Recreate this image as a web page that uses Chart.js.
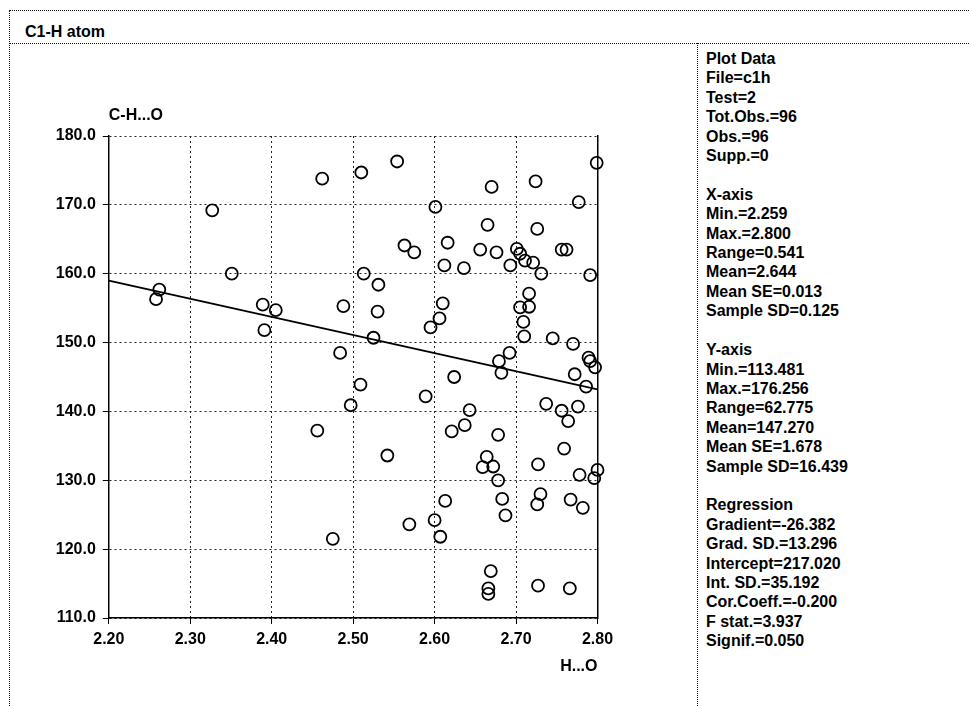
<!DOCTYPE html>
<html>
<head>
<meta charset="utf-8">
<title>C1-H atom</title>
<script src="https://cdn.jsdelivr.net/npm/chart.js@4.4.1/dist/chart.umd.min.js"></script>
<style>
    body { margin: 0; background: #fff; font-family: "Liberation Sans", Arial, sans-serif; }
    #wrap { position: relative; width: 969px; height: 706px; overflow: hidden; }
    #chart { position: absolute; left: 0; top: 0; }
    .rule { position: absolute; border: 0 dotted #111; }
    #title { position: absolute; left: 25px; top: 22px; font-size: 16px; font-weight: bold; line-height: 19px; color: #000; }
    #panel { position: absolute; left: 706px; top: 49px; font-size: 16px; font-weight: bold; line-height: 19.4px; color: #000; white-space: pre; }
</style>
</head>
<body>
<div id="wrap">
    <div class="rule" style="left:9px;top:10px;width:960px;border-top-width:1px;"></div>
    <div class="rule" style="left:9px;top:10px;height:696px;border-left-width:1px;"></div>
    <div class="rule" style="left:9px;top:43px;width:960px;border-top-width:1px;"></div>
    <div class="rule" style="left:697px;top:43px;height:663px;border-left-width:1px;"></div>
    <div id="title">C1-H atom</div>
    <div id="panel"></div>
    <canvas id="chart" width="969" height="706"></canvas>
</div>
<script>
// H...O distance (x) and C-H...O angle (y) for each observation
const xValues = [
    2.258, 2.262, 2.327, 2.351, 2.389, 2.391, 2.405, 2.456, 2.462, 2.475,
    2.484, 2.488, 2.497, 2.509, 2.510, 2.513, 2.525, 2.530, 2.531, 2.542,
    2.554, 2.563, 2.569, 2.575, 2.589, 2.595, 2.601, 2.600, 2.606, 2.607,
    2.610, 2.612, 2.613, 2.616, 2.621, 2.624, 2.636, 2.637, 2.643, 2.656,
    2.659, 2.664, 2.665, 2.666, 2.666, 2.669, 2.670, 2.672, 2.676, 2.678,
    2.678, 2.679, 2.682, 2.683, 2.687, 2.693, 2.692, 2.701, 2.705, 2.705,
    2.709, 2.710, 2.711, 2.716, 2.716, 2.721, 2.724, 2.726, 2.726, 2.727,
    2.727, 2.730, 2.731, 2.737, 2.745, 2.756, 2.756, 2.759, 2.762, 2.764,
    2.766, 2.767, 2.770, 2.772, 2.776, 2.777, 2.778, 2.782, 2.786, 2.789,
    2.791, 2.791, 2.796, 2.797, 2.799, 2.800
];
const yValues = [
    156.3, 157.7, 169.2, 160.0, 155.5, 151.8, 154.7, 137.2, 173.8, 121.5,
    148.5, 155.3, 140.9, 143.9, 174.7, 160.0, 150.7, 154.5, 158.4, 133.6,
    176.3, 164.1, 123.6, 163.1, 142.2, 152.2, 169.7, 124.2, 153.5, 121.8,
    155.7, 161.2, 127.0, 164.5, 137.1, 145.0, 160.8, 138.0, 140.2, 163.5,
    131.9, 133.4, 167.1, 114.3, 113.5, 116.8, 172.6, 132.0, 163.1, 130.0,
    136.6, 147.3, 145.6, 127.3, 124.9, 161.2, 148.5, 163.6, 162.9, 155.1,
    153.0, 150.9, 161.9, 157.1, 155.2, 161.6, 173.4, 126.5, 166.5, 132.3,
    114.7, 128.0, 160.0, 141.1, 150.6, 163.5, 140.1, 134.6, 163.5, 138.6,
    114.3, 127.2, 149.8, 145.4, 140.7, 170.4, 130.8, 126.0, 143.6, 147.8,
    147.3, 159.8, 130.3, 146.4, 176.1, 131.5
];

// regression line ends, as drawn
const lineX = [2.20, 2.80];
const lineY = [159.0, 143.2];

const xTickValues = [2.2, 2.3, 2.4, 2.5, 2.6, 2.7, 2.8];
const xTickLabels = ["2.20", "2.30", "2.40", "2.50", "2.60", "2.70", "2.80"];
const yTickValues = [110, 120, 130, 140, 150, 160, 170, 180];
const yTickLabels = ["110.0", "120.0", "130.0", "140.0", "150.0", "160.0", "170.0", "180.0"];

const xTitle = "H...O";
const yTitle = "C-H...O";

const panelLines = [
    "Plot Data", "File=c1h", "Test=2", "Tot.Obs.=96", "Obs.=96", "Supp.=0", "",
    "X-axis", "Min.=2.259", "Max.=2.800", "Range=0.541", "Mean=2.644", "Mean SE=0.013", "Sample SD=0.125", "",
    "Y-axis", "Min.=113.481", "Max.=176.256", "Range=62.775", "Mean=147.270", "Mean SE=1.678", "Sample SD=16.439", "",
    "Regression", "Gradient=-26.382", "Grad. SD.=13.296", "Intercept=217.020", "Int. SD.=35.192",
    "Cor.Coeff.=-0.200", "F stat.=3.937", "Signif.=0.050"
];

document.getElementById("panel").textContent = panelLines.join("\n");

Chart.defaults.font.family = '"Liberation Sans", Arial, sans-serif';
Chart.defaults.font.size = 16;
Chart.defaults.font.weight = "bold";
Chart.defaults.color = "#000";

// horizontal y-axis caption above the plot
const yCaption = {
    id: "yCaption",
    afterDraw(chart) {
        const ctx = chart.ctx;
        ctx.save();
        ctx.font = 'bold 16px "Liberation Sans", Arial, sans-serif';
        ctx.fillStyle = "#000";
        ctx.textAlign = "left";
        ctx.textBaseline = "middle";
        ctx.fillText(yTitle, chart.chartArea.left, chart.chartArea.top - 20);
        ctx.restore();
    }
};

const points = xValues.map((x, i) => ({ x: x, y: yValues[i] }));
const linePoints = lineX.map((x, i) => ({ x: x, y: lineY[i] }));

new Chart(document.getElementById("chart"), {
    type: "scatter",
    data: {
        datasets: [{
            data: points,
            pointStyle: "circle",
            pointRadius: 6,
            pointHoverRadius: 6,
            pointBorderWidth: 1.8,
            borderColor: "#000",
            backgroundColor: "rgba(0,0,0,0)",
            clip: false
        }, {
            data: linePoints,
            showLine: true,
            pointRadius: 0,
            borderColor: "#000",
            borderWidth: 1.8
        }]
    },
    options: {
        responsive: false,
        animation: false,
        events: [],
        plugins: { legend: { display: false }, tooltip: { enabled: false } },
        layout: { padding: { top: 136, left: 0, right: 371.5, bottom: 28 } },
        scales: {
            x: {
                type: "linear",
                min: 2.2,
                max: 2.8,
                afterBuildTicks: s => { s.ticks = xTickValues.map(v => ({ value: v })); },
                afterFit: s => { s.height = 60; },
                ticks: {
                    callback: (v, i) => xTickLabels[i],
                    padding: 6,
                    maxRotation: 0,
                    color: "#000"
                },
                grid: {
                    color: "#222",
                    lineWidth: 1,
                    tickLength: 6,
                    tickColor: "#000",
                    tickBorderDash: []
                },
                border: { display: true, color: "#000", width: 1.5, dash: [2, 3] },
                title: {
                    display: true,
                    text: xTitle,
                    align: "end",
                    padding: { top: 0, bottom: 2 },
                    color: "#000"
                }
            },
            y: {
                type: "linear",
                min: 110,
                max: 180,
                afterBuildTicks: s => { s.ticks = yTickValues.map(v => ({ value: v })); },
                afterFit: s => { s.width = 108.8; },
                ticks: {
                    callback: (v, i) => yTickLabels[i],
                    padding: 7,
                    color: "#000"
                },
                grid: {
                    color: "#222",
                    lineWidth: 1,
                    tickLength: 6,
                    tickColor: "#000",
                    tickBorderDash: []
                },
                border: { display: true, color: "#000", width: 1.5, dash: [2, 3] }
            },
            yr: {
                type: "linear",
                position: "right",
                afterFit: s => { s.width = 0; },
                ticks: { display: false },
                grid: { display: false, drawTicks: false },
                border: { display: true, color: "#000", width: 1.5 }
            }
        }
    },
    plugins: [yCaption]
});
</script>
</body>
</html>
